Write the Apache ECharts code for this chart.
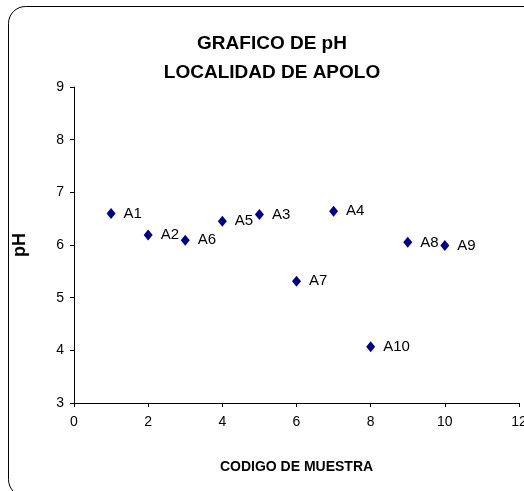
<!DOCTYPE html>
<html>
<head>
<meta charset="utf-8">
<script src="https://cdn.jsdelivr.net/npm/echarts@6/dist/echarts.min.js"></script>
<style>
  html, body { margin: 0; padding: 0; background: #fff; }
  #chart { width: 524px; height: 491px; }
</style>
</head>
<body>
<div id="chart"></div>
<script>
// codigo de muestra, pH and sample names
var xValues = [1, 2, 3, 4, 5, 6, 7, 8, 9, 10]
var phValues = [6.6, 6.19, 6.09, 6.45, 6.58, 5.31, 6.64, 4.07, 6.05, 5.99]
var sampleNames = ['A1', 'A2', 'A6', 'A5', 'A3', 'A7', 'A4', 'A10', 'A8', 'A9']

var points = []
for (var i = 0; i < xValues.length; i++) {
  points.push({ value: [xValues[i], phValues[i]], name: sampleNames[i] })
}

var font = 'Liberation Sans, Arial, sans-serif'
var myChart = echarts.init(document.getElementById('chart'))
var option = {
  animation: false,
  backgroundColor: '#fff',
  graphic: [{
    type: 'rect',
    shape: { x: 8.5, y: 6.5, width: 540, height: 490, r: 17 },
    style: { fill: 'none', stroke: '#000', lineWidth: 1 },
    silent: true,
    z: -1
  }, {
    // titulo, centrado sobre x = 272
    type: 'text',
    x: 272,
    y: 29,
    style: {
      text: 'GRAFICO DE pH\nLOCALIDAD DE APOLO',
      align: 'center',
      verticalAlign: 'top',
      fontFamily: font,
      fontSize: 19,
      fontWeight: 'bold',
      lineHeight: 29,
      fill: '#000'
    },
    silent: true
  }],
  grid: { left: 74, right: 5, top: 87, bottom: 88, outerBoundsMode: 'none' },
  xAxis: {
    type: 'value',
    min: 0, max: 12, interval: 2,
    name: 'CODIGO DE MUESTRA',
    nameLocation: 'middle',
    nameGap: 57,
    nameTextStyle: { fontFamily: font, fontSize: 14, fontWeight: 'bold', color: '#000' },
    splitLine: { show: false },
    axisLine: { lineStyle: { color: '#000', width: 1 } },
    axisTick: { length: 4, lineStyle: { color: '#000' } },
    axisLabel: { fontFamily: font, fontSize: 14, color: '#000', margin: 12, showMaxLabel: true }
  },
  yAxis: {
    type: 'value',
    min: 3, max: 9, interval: 1,
    name: 'pH',
    nameLocation: 'middle',
    nameGap: 45,
    nameRotate: 90,
    nameTextStyle: { fontFamily: font, fontSize: 18, fontWeight: 'bold', color: '#000' },
    splitLine: { show: false },
    axisLine: { show: true, lineStyle: { color: '#000', width: 1 } },
    axisTick: { show: true, length: 4, lineStyle: { color: '#000' } },
    axisLabel: { fontFamily: font, fontSize: 14, color: '#000', margin: 10 }
  },
  series: [{
    type: 'scatter',
    data: points,
    symbol: 'diamond',
    symbolSize: [9, 11],
    itemStyle: { color: '#000080', opacity: 1 },
    label: {
      show: true,
      position: 'right',
      distance: 8,
      formatter: '{b}',
      fontFamily: font,
      fontSize: 15,
      color: '#000'
    }
  }]
}
myChart.setOption(option)
</script>
</body>
</html>
